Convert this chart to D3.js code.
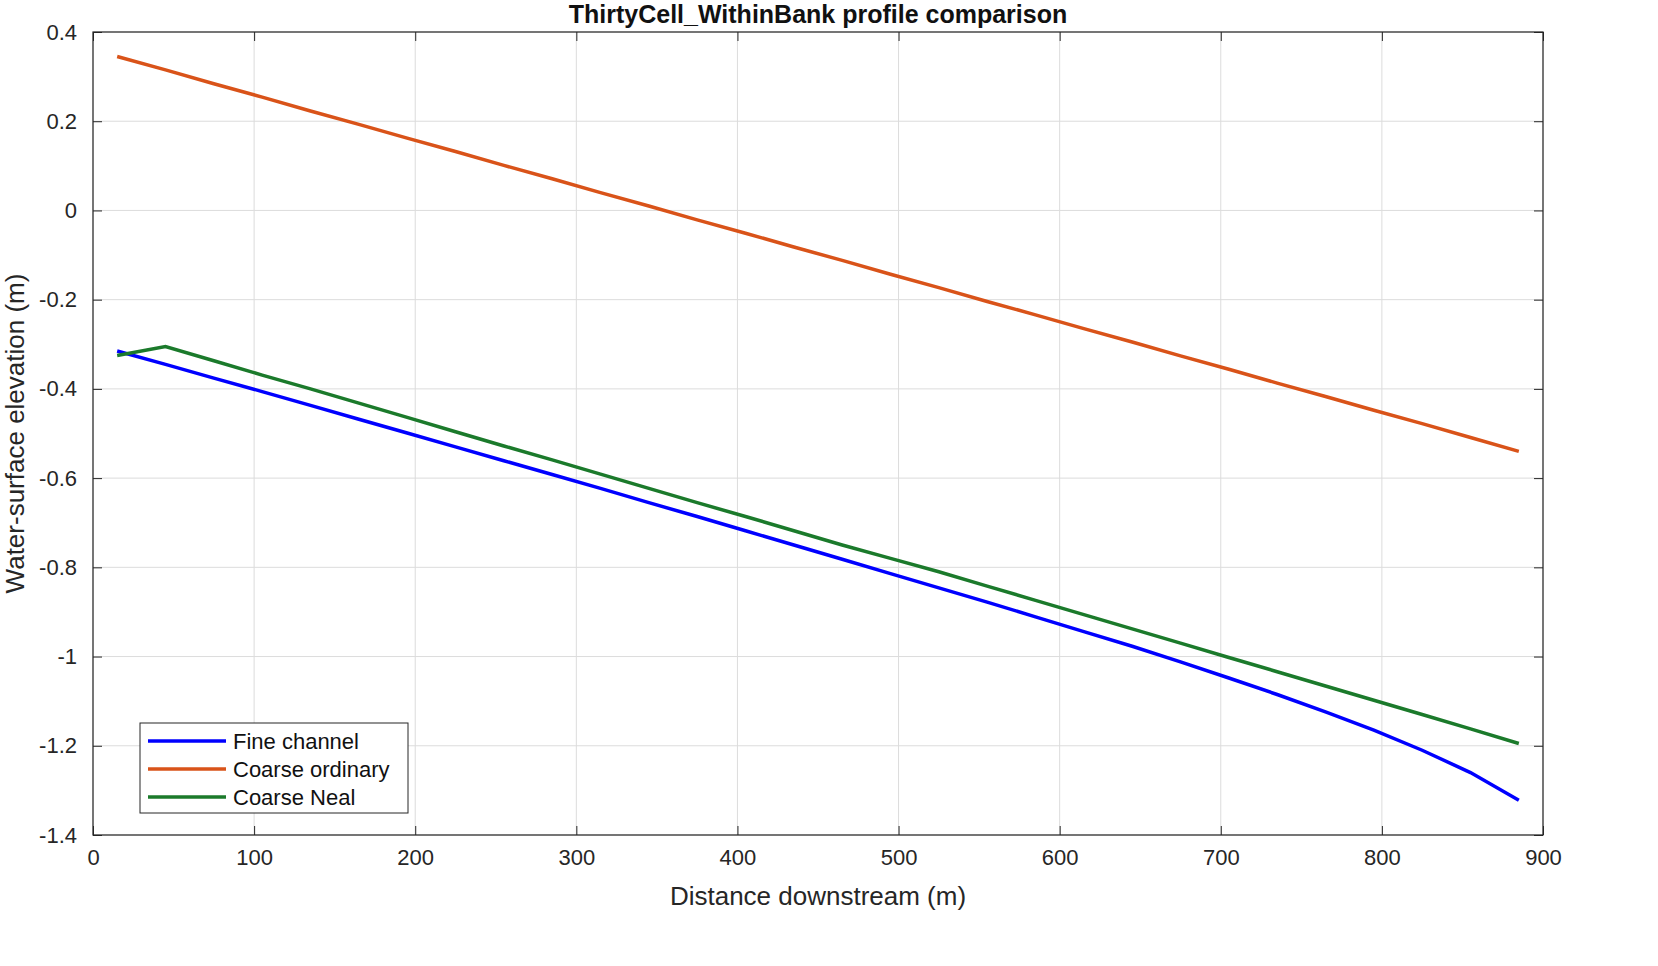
<!DOCTYPE html><html><head><meta charset="utf-8"><script src="https://cdn.jsdelivr.net/npm/d3@7"></script>
<style>body{margin:0;background:#fff}svg{font-family:"Liberation Sans",Arial,sans-serif}</style></head><body><svg id="c" width="1658" height="966"></svg><script>
const xs=[15,45,75,105,135,165,195,225,255,285,315,345,375,405,435,465,495,525,555,585,615,645,675,705,735,765,795,825,855,885];
const fine=[-0.315,-0.345,-0.376,-0.406,-0.437,-0.468,-0.499,-0.530,-0.561,-0.592,-0.623,-0.655,-0.686,-0.718,-0.750,-0.782,-0.814,-0.846,-0.878,-0.911,-0.944,-0.977,-1.012,-1.048,-1.085,-1.124,-1.165,-1.210,-1.260,-1.322];
const ordinary=[0.345,0.315,0.284,0.254,0.223,0.193,0.162,0.132,0.101,0.071,0.040,0.010,-0.021,-0.051,-0.082,-0.112,-0.143,-0.173,-0.204,-0.234,-0.265,-0.295,-0.326,-0.356,-0.387,-0.417,-0.448,-0.478,-0.509,-0.540];
const neal=[-0.325,-0.305,-0.337,-0.369,-0.400,-0.432,-0.464,-0.496,-0.528,-0.559,-0.591,-0.623,-0.655,-0.686,-0.718,-0.750,-0.780,-0.810,-0.842,-0.874,-0.906,-0.938,-0.970,-1.002,-1.034,-1.066,-1.098,-1.130,-1.162,-1.195];
const series=[{name:"Fine channel",v:fine,c:"#0000ff"},{name:"Coarse ordinary",v:ordinary,c:"#D95319"},{name:"Coarse Neal",v:neal,c:"#1b7a2b"}];
const xTicks=[0,100,200,300,400,500,600,700,800,900];
const yTicks=[0.4,0.2,0,-0.2,-0.4,-0.6,-0.8,-1,-1.2,-1.4];
const L=93,R=1543,T=32,B=835;
const svg=d3.select("#c");
const x=d3.scaleLinear().domain([0,900]).range([L,R]);
const y=d3.scaleLinear().domain([-1.4,0.4]).range([B,T]);
const g=svg.append("g");
xTicks.forEach(t=>g.append("line").attr("x1",x(t)).attr("x2",x(t)).attr("y1",T).attr("y2",B).attr("stroke","#dcdcdc"));
yTicks.forEach(t=>g.append("line").attr("y1",y(t)).attr("y2",y(t)).attr("x1",L).attr("x2",R).attr("stroke","#dcdcdc"));
const fmt=d=>d===0?"0":String(+d.toFixed(1));
const ax=(gen,tr,sel)=>svg.append("g").attr("transform",tr).call(gen).call(s=>{s.select(".domain").remove();s.selectAll("line").attr("stroke","#262626");s.selectAll("text").attr("font-size",22).attr("fill","#262626");if(sel)sel(s);});
ax(d3.axisBottom(x).tickValues(xTicks).tickSize(-9).tickPadding(14).tickFormat(fmt),`translate(0,${B})`);
ax(d3.axisTop(x).tickValues(xTicks).tickSize(-9).tickFormat(""),`translate(0,${T})`);
ax(d3.axisLeft(y).tickValues(yTicks).tickSize(-9).tickPadding(16).tickFormat(fmt),`translate(${L},0)`);
ax(d3.axisRight(y).tickValues(yTicks).tickSize(-9).tickFormat(""),`translate(${R},0)`);
svg.append("rect").attr("x",L).attr("y",T).attr("width",R-L).attr("height",B-T).attr("fill","none").attr("stroke","#262626").attr("stroke-width",1.2);
const line=d3.line().x((d,i)=>x(xs[i])).y(d=>y(d));
series.forEach(s=>svg.append("path").attr("d",line(s.v)).attr("fill","none").attr("stroke",s.c).attr("stroke-width",3.5));
svg.append("text").attr("x",(L+R)/2).attr("y",23).attr("text-anchor","middle").attr("font-size",25).attr("font-weight","bold").attr("fill","#111").text("ThirtyCell_WithinBank profile comparison");
svg.append("text").attr("x",(L+R)/2).attr("y",905).attr("text-anchor","middle").attr("font-size",26).attr("fill","#262626").text("Distance downstream (m)");
svg.append("text").attr("transform",`translate(24,${(T+B)/2}) rotate(-90)`).attr("text-anchor","middle").attr("font-size",26).attr("fill","#262626").text("Water-surface elevation (m)");
const lg=svg.append("g");
lg.append("rect").attr("x",140).attr("y",723).attr("width",268).attr("height",90).attr("fill","#fff").attr("stroke","#262626");
series.forEach((s,i)=>{const yy=741+i*28;lg.append("line").attr("x1",148).attr("x2",226).attr("y1",yy).attr("y2",yy).attr("stroke",s.c).attr("stroke-width",3.5);
lg.append("text").attr("x",233).attr("y",yy+8).attr("font-size",22).attr("fill","#111").text(s.name);});
</script></body></html>
